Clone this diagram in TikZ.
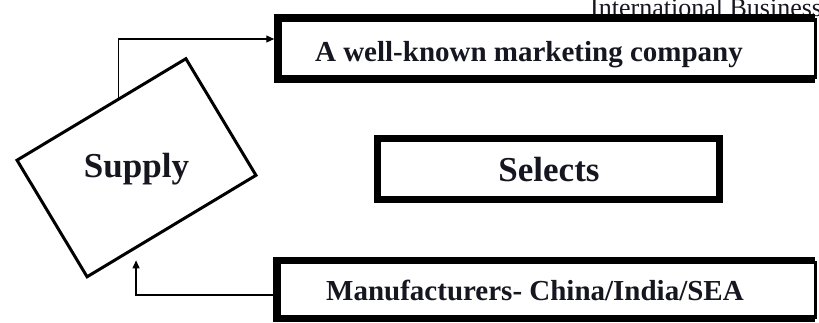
\documentclass[tikz,border=0pt]{standalone}
\usepackage{fontspec}
\setmainfont{Liberation Serif}
\usetikzlibrary{arrows.meta,calc}
\definecolor{ink}{RGB}{22,22,32}
\begin{document}
\begin{tikzpicture}[x=1pt,y=-1pt,
  panel/.style={draw=none, inner sep=0pt, outer sep=0pt},
  heavy/.style={line width=7.5pt, line join=miter},
  thinedge/.style={line width=3pt},
  framed/.style={draw, line width=7pt, inner sep=0pt, outer sep=0pt},
  tilted/.style={draw, line width=3pt, inner sep=0pt, outer sep=0pt, rotate=31},
  lblmid/.style={text=ink, inner sep=0pt, anchor=base, font=\bfseries\fontsize{29}{31}\selectfont},
  lblbig/.style={text=ink, inner sep=0pt, anchor=base, font=\bfseries\fontsize{35}{37}\selectfont},
  link/.style={line width=1.2pt, -{Triangle[length=8pt,width=7pt]}}
]
\useasboundingbox[fill=white] (0,0) rectangle (819,323);

% running heading, partly hidden behind the top panel
\node[anchor=base west, inner sep=0pt, text=ink, font=\fontsize{26}{28}\selectfont]
  (heading) at (590,17) {International Business};

% tilted supply box
\node[tilted, minimum width=197pt, minimum height=136pt] (supply) at (136.5,167.75) {};
\node[lblbig] (supplytext) at (136.5,178) {Supply};

% right-hand panels
\node[panel, fill=white, minimum width=537pt, minimum height=61pt] (top) at (546.5,48.5) {};
\draw[heavy] (top.north east) -- (top.north west) -- (top.south west) -- (top.south east);
\draw[thinedge] (top.north east) -- (top.south east);
\node[lblmid] (toptext) at (529,62) {A well-known marketing company};

\node[framed, minimum width=342pt, minimum height=61pt] (mid) at (548.5,169) {};
\node[lblbig] (midtext) at (549,181.5) {Selects};

\node[panel, minimum width=538pt, minimum height=58pt] (bottom) at (546,289.5) {};
\draw[heavy] (bottom.north east) -- (bottom.north west) -- (bottom.south west) -- (bottom.south east);
\draw[thinedge] (bottom.north east) -- (bottom.south east);
\node[lblmid] (bottomtext) at (535,300) {Manufacturers- China/India/SEA};

% connectors
\coordinate (supplyout) at ($(supply.north west)!0.6!(supply.north east)$);
\draw[link] (supplyout) |- ([xshift=-3.75pt,yshift=9.5pt]top.west);
\coordinate (supplyin) at ($(supply.south west)!0.29!(supply.south east) + (0,13)$);
\draw[link] ([xshift=-3.75pt,yshift=-5.5pt]bottom.west) -| (supplyin);
\end{tikzpicture}
\end{document}
